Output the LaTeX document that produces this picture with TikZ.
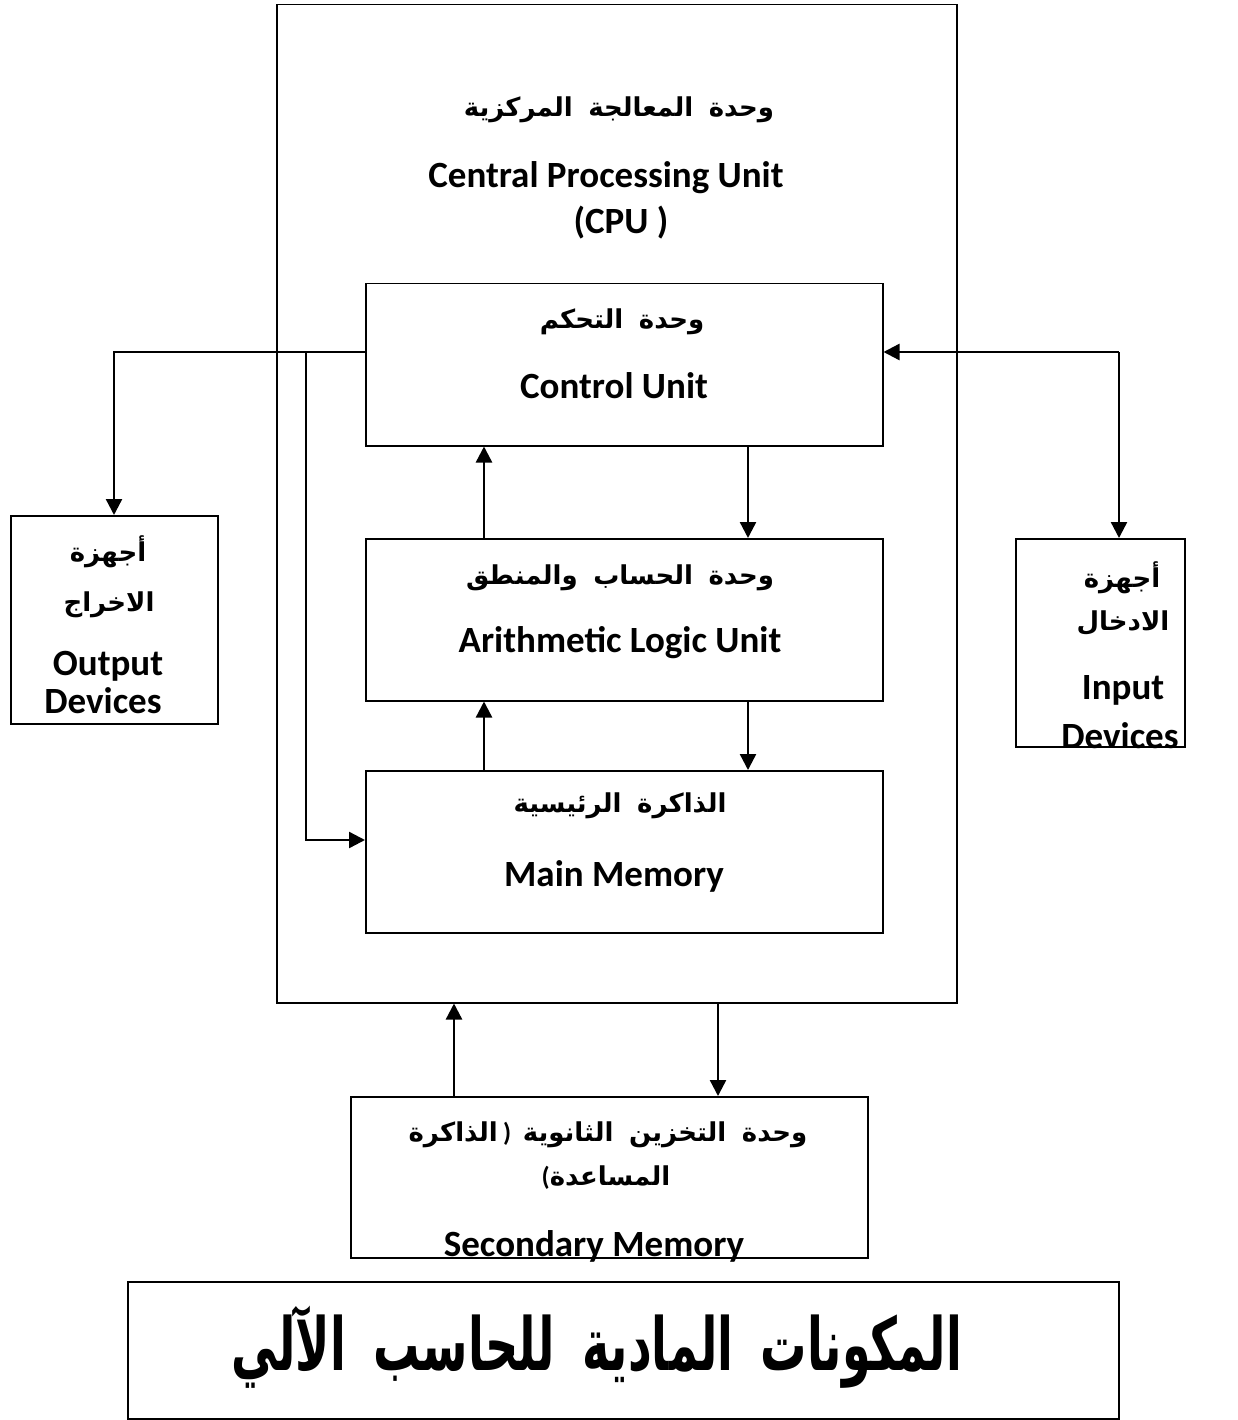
\documentclass[tikz,border=0pt]{standalone}
\usepackage{fontspec}
\setmainfont{Carlito}
\newfontfamily\ar[Script=Arabic]{DejaVu Sans}
\TeXXeTstate=1
\usetikzlibrary{arrows.meta}
\newcommand{\AR}[1]{{\ar\bfseries\beginR #1\endR}}
\newcommand{\gap}{\hspace{0.6em}}
\begin{document}
\begin{tikzpicture}[x=1pt,y=-1pt,
  box/.style={draw,line width=1.5pt,inner sep=0pt,anchor=north west},
  arr/.style={line width=2.4pt,-{Triangle[length=16pt,width=16pt]}},
  en/.style={font=\fontsize{37}{40}\selectfont\bfseries,inner sep=0pt},
  arab/.style={font=\fontsize{26}{30}\selectfont,inner sep=0pt}]
\useasboundingbox (0,0) rectangle (1238,1420);
% boxes
\node[box,minimum width=680pt,minimum height=998pt] (cpu) at (276,4) {};
\node[box,minimum width=517pt,minimum height=162pt] (cu) at (365,283) {};
\node[box,minimum width=517pt,minimum height=162pt] (alu) at (365,538) {};
\node[box,minimum width=517pt,minimum height=162pt] (mm) at (365,770) {};
\node[box,line width=2pt,minimum width=207pt,minimum height=208pt] (out) at (10,515) {};
\node[box,minimum width=169pt,minimum height=208pt] (in) at (1015,538) {};
\node[box,minimum width=517pt,minimum height=161pt] (sec) at (350,1096) {};
\node[box,minimum width=991pt,minimum height=137pt] (title) at (127,1281) {};
% texts
\node[arab] (t1) at (619,110) {\AR{وحدة\gap المعالجة\gap المركزية}};
\node[en] (t2) at (606,178) {Central Processing Unit};
\node[en] (t3) at (621,223) {(CPU )};
\node[arab] (t4) at (622,322) {\AR{وحدة\gap التحكم}};
\node[en] (t5) at (614,386) {Control Unit};
\node[arab] (t6) at (620,578) {\AR{وحدة\gap الحساب\gap والمنطق}};
\node[en] (t7) at (620,643) {Arithmetic Logic Unit};
\node[arab] (t8) at (620,806) {\AR{الذاكرة\gap الرئيسية}};
\node[en] (t9) at (614,876) {Main Memory};
\node[arab] (o1) at (108,552) {\AR{أجهزة}};
\node[arab] (o2) at (109,605) {\AR{الاخراج}};
\node[en] (o3) at (108,666) {Output};
\node[en] (o4) at (103,701) {Devices};
\node[arab] (i1) at (1122,578) {\AR{أجهزة}};
\node[arab] (i2) at (1123,623) {\AR{الادخال}};
\node[en] (i3) at (1123,690) {Input};
\node[en] (i4) at (1120,736) {Devices};
\node[arab] (s1) at (608,1135) {\AR{الذاكرة}\hspace{0.2em}{\bfseries)}\hspace{0.45em}\AR{وحدة\gap التخزين\gap الثانوية}};
\node[arab] (s2) at (606,1178) {{\bfseries(}\AR{المساعدة}};
\node[en] (s3) at (594,1246) {Secondary Memory};
\node[inner sep=0pt,font=\fontsize{60}{66}\selectfont] (tt) at (597,1347) {\scalebox{0.77}[1.22]{\AR{المكونات\gap المادية\gap للحاسب\gap الآلي}}};
% connectors
\coordinate (jo) at (114,352);
\coordinate (jm) at (306,352);
\coordinate (jm2) at (306,840);
\coordinate (ji) at (1119,352);
\draw[arr] (cu.west |- jo) -- (jo) -- (out.north -| jo);
\draw[arr] (jm) -- (jm2) -- (mm.west |- jm2);
\draw[arr] (ji) -- (cu.east |- ji);
\draw[arr] (ji) -- (in.north -| ji);
\draw[arr] (alu.north -| 484,0) -- (cu.south -| 484,0);
\draw[arr] (cu.south -| 748,0) -- (alu.north -| 748,0);
\draw[arr] (mm.north -| 484,0) -- (alu.south -| 484,0);
\draw[arr] (alu.south -| 748,0) -- (mm.north -| 748,0);
\draw[arr] (sec.north -| 454,0) -- (cpu.south -| 454,0);
\draw[arr] (cpu.south -| 718,0) -- (sec.north -| 718,0);
\end{tikzpicture}
\end{document}
